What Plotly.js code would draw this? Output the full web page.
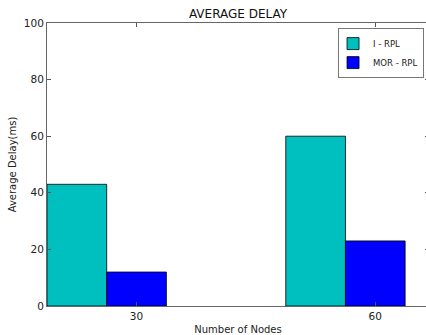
<!DOCTYPE html>
<html>
<head>
<meta charset="utf-8">
<script src="https://cdn.plot.ly/plotly-3.0.1.min.js"></script>
<style>
html,body{margin:0;padding:0;overflow:hidden;background:#fff;}
#chart{width:430px;height:335px;}
</style>
</head>
<body>
<div id="chart"></div>
<script>
// Data
var categories = ["30", "60"];
var seriesNames = ["I - RPL", "MOR - RPL"];
var iRpl = [43, 60];
var morRpl = [12, 23];
var colors = ["#00BFBF", "#0000FF"];

var barWidth = 0.25;
var ind = categories.map(function (c, i) { return i; });

var fontFam = "DejaVu Sans, Arial, sans-serif";

var traces = [
  {
    type: "bar", name: seriesNames[0], x: ind, y: iRpl,
    width: barWidth, offset: 0,
    marker: { color: colors[0], line: { color: "#000", width: 0.8 } }
  },
  {
    type: "bar", name: seriesNames[1], x: ind, y: morRpl,
    width: barWidth, offset: barWidth,
    marker: { color: colors[1], line: { color: "#000", width: 0.8 } }
  }
];

var layout = {
  width: 430, height: 335,
  margin: { l: 47, r: 1, t: 23, b: 28.5 },
  paper_bgcolor: "#fff", plot_bgcolor: "#fff",
  font: { family: fontFam, color: "#222" },
  showlegend: true,
  barmode: "overlay",
  title: {
    text: "AVERAGE DELAY",
    font: { size: 12, family: fontFam, color: "#111" },
    x: 0.5, xref: "paper", xanchor: "center",
    y: 1 - 14 / 335, yref: "container", yanchor: "middle"
  },
  xaxis: {
    range: [0, 1.6],
    tickvals: ind.map(function (i) { return i + barWidth * 1.5; }),
    ticktext: categories,
    ticks: "inside", ticklen: 4, tickcolor: "#555", tickwidth: 1,
    showline: true, linecolor: "#666", linewidth: 1, mirror: "ticks",
    showgrid: false, zeroline: false,
    tickfont: { size: 10.5, family: fontFam, color: "#222" },
    title: { text: "Number of Nodes", font: { size: 10, family: fontFam, color: "#222" }, standoff: 6 }
  },
  yaxis: {
    range: [0, 100],
    tickvals: [0, 20, 40, 60, 80, 100],
    ticks: "inside", ticklen: 4, tickcolor: "#555", tickwidth: 1,
    showline: true, linecolor: "#666", linewidth: 1, mirror: "ticks",
    showgrid: false, zeroline: false,
    tickfont: { size: 10.5, family: fontFam, color: "#222" },
    title: { text: "Average Delay(ms)", font: { size: 10, family: fontFam, color: "#222" }, standoff: 5 }
  },
  legend: {
    x: 0.987, xanchor: "right", y: 0.982, yanchor: "top",
    bgcolor: "#fff", bordercolor: "#777", borderwidth: 1,
    font: { size: 8.5, family: fontFam, color: "#222" },
    itemwidth: 30, tracegroupgap: 0, indentation: -6
  }
};

Plotly.newPlot("chart", traces, layout, { displayModeBar: false, staticPlot: true });
</script>
</body>
</html>
